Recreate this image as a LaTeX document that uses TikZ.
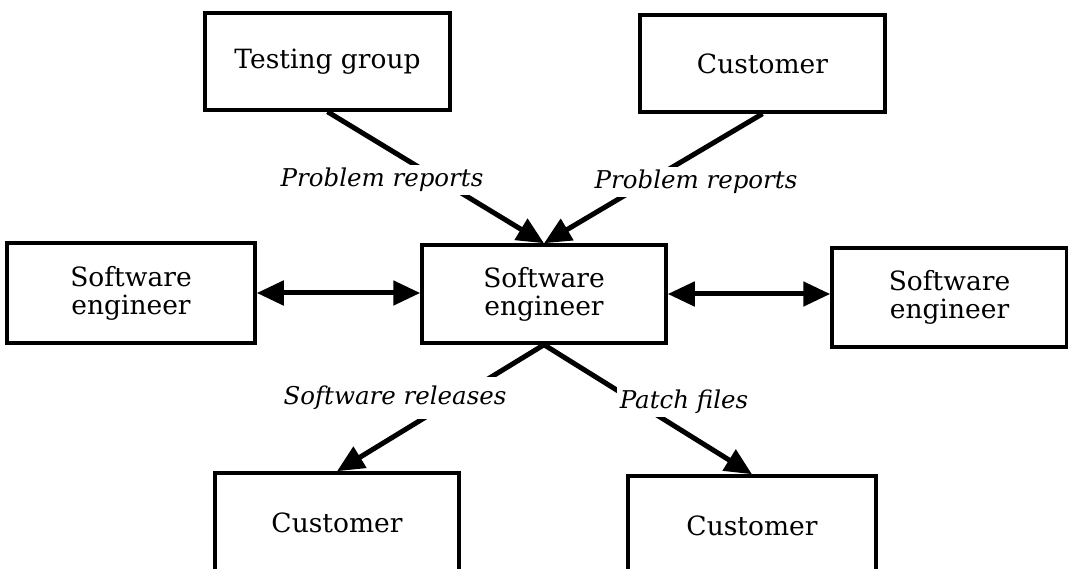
\documentclass[tikz,border=0pt]{standalone}
\usepackage{fontspec}
\setmainfont{DejaVu Serif}
\usetikzlibrary{arrows.meta}
\begin{document}
\begin{tikzpicture}[x=1pt,y=-1pt,
  box/.style={draw, line width=3.5pt, align=center, inner sep=0pt,
    font=\fontsize{26.5}{28}\selectfont},
  tip/.tip={Triangle[length=27pt,width=24pt]},
  flow/.style={line width=5pt, -tip},
  both/.style={line width=5pt, tip-tip},
  lbl/.style={fill=white, inner sep=3pt, font=\fontsize{24.5}{27}\selectfont\itshape}]
\useasboundingbox (0,0) rectangle (1068,569);

% boxes
\node[box, minimum width=245pt, minimum height=97pt] (tg) at (327.5,61.5) {Testing group};
\node[box, minimum width=245pt, minimum height=97pt] (ct) at (762.5,63.5) {Customer};
\node[box, minimum width=248pt, minimum height=100pt] (sl) at (131,293) {Software\\engineer};
\node[box, minimum width=244pt, minimum height=98pt] (sc) at (544,294) {Software\\engineer};
\node[box, minimum width=235pt, minimum height=99pt] (sr) at (949.5,297.5) {Software\\engineer};
\node[box, minimum width=244pt, minimum height=100pt] (cl) at (337,523) {Customer};
\node[box, minimum width=248pt, minimum height=100pt] (cr) at (752,526) {Customer};

% connectors
\draw[flow] (tg.south) -- (sc.north);
\draw[flow] (ct.south) -- (sc.north);
\draw[both] (sl.east) -- (sl.east -| sc.west);
\draw[both] (sc.east) -- (sc.east -| sr.west);
\draw[flow] (sc.south) -- (cl.north);
\draw[flow] (sc.south) -- (cr.north);

% connector labels
\node[lbl] (l1) at (382,180) {Problem reports};
\node[lbl] (l2) at (696,182) {Problem reports};
\node[lbl, inner ysep=9pt] (l3) at (395,398) {Software releases};
\node[lbl] (l4) at (684,402) {Patch files};
\end{tikzpicture}
\end{document}
